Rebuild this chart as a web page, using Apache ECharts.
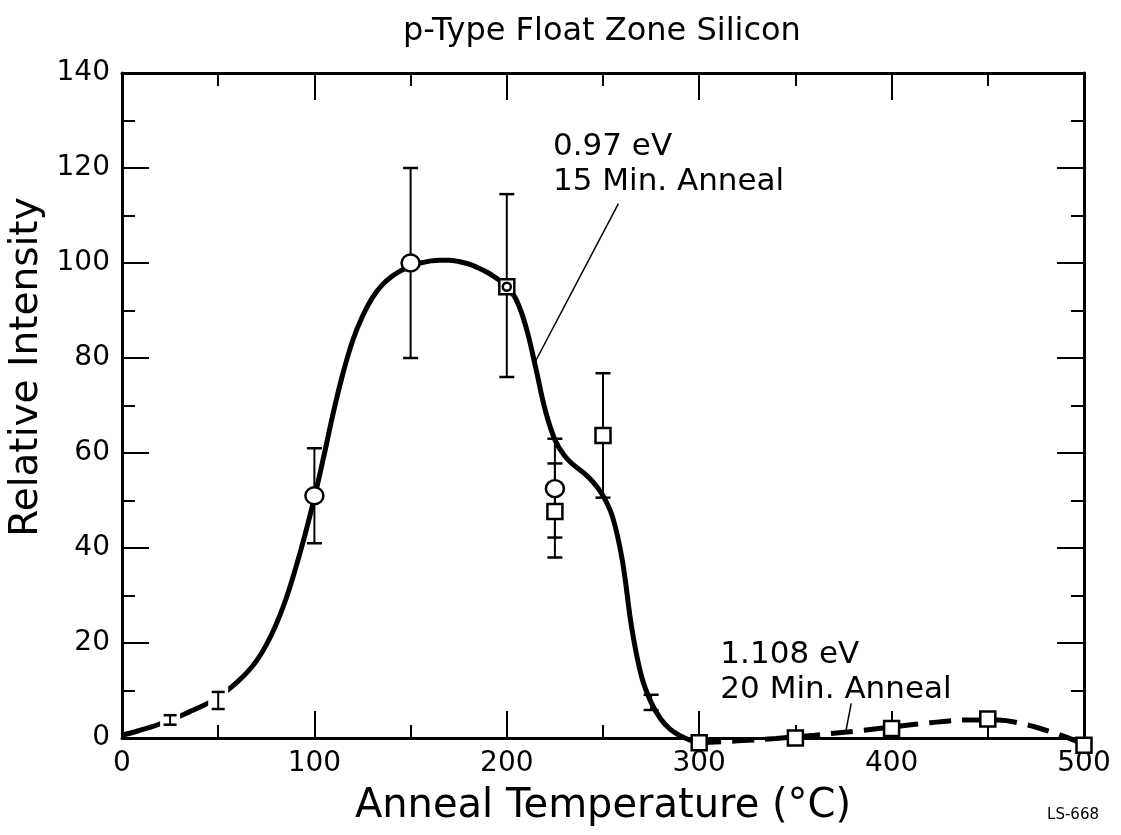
<!DOCTYPE html>
<html>
<head>
<meta charset="utf-8">
<script src="https://cdn.jsdelivr.net/npm/echarts@6/dist/echarts.min.js"></script>
<style>
  html, body { margin: 0; padding: 0; background: #fff; }
  #chart { width: 1121px; height: 835px; }
</style>
</head>
<body>
<div id="chart"></div>
<script>
// 0.97 eV line, 15 min anneals: open circles and open squares
const circleT = [100, 150, 200, 225];
const circleI = [51, 100, 95, 52.5];
const squareT = [200, 225, 250];
const squareI = [95, 47.7, 63.7];

// 1.108 eV line, 20 min anneals
const sq2T = [300, 350, 400, 450, 500];
const sq2I = [-1, 0, 2, 4, -1.5];

// error bars: temperature, lower and upper limit
const errT  = [25,  50,  100, 150, 200,   225, 225,  250,  275];
const errLo = [2.8, 6.1, 41,  80,  76,    38,  42.2, 50.6, 5.9];
const errHi = [4.8, 9.7, 61,  120, 114.5, 63,  57.8, 76.8, 9.1];

// drawn-in trend curves (solid: every 5 degrees from 0 to 300)
const solidT = Array.from({ length: 61 }, (_, i) => i * 5);
const solidI = [
  0.6, 1.1, 1.7, 2.3, 3.0, 3.8, 4.6, 5.5, 6.4, 7.4,
  8.5, 10.1, 11.8, 13.8, 16.3, 19.6, 23.8, 29, 35.4, 42.6,
  50.6, 59.5, 68.8, 77, 83.8, 88.8, 92.6, 95.3, 97.1, 98.4,
  99.3, 100, 100.4, 100.6, 100.6, 100.3, 99.8, 99, 98, 96.7,
  95, 92.2, 86.5, 78, 69, 62.8, 59.4, 57.4, 55.8, 53.8,
  51, 46.5, 37.5, 23, 13, 7.5, 4, 1.8, 0.5, -0.4,
  -1
];
const dashT = [300, 320, 340, 360, 380, 400, 420, 440, 455, 470, 485, 495, 500];
const dashI = [-1, -0.6, -0.1, 0.6, 1.4, 2.3, 3.2, 3.8, 3.8, 2.8, 1, -0.5, -1.5];

const FONT = 'DejaVu Sans';
const pairs = (xs, ys) => xs.map((x, i) => [x, ys[i]]);

const chart = echarts.init(document.getElementById('chart'), null, { renderer: 'canvas' });

const tickStyle = { color: '#000', width: 2 };
function xAxisCfg(pos, labels) {
  return {
    type: 'value', position: pos, min: 0, max: 500, interval: 100,
    axisLine: { show: true, onZero: false, lineStyle: { color: '#000', width: 3 } },
    axisTick: { show: true, inside: true, length: 27, lineStyle: tickStyle },
    minorTick: { show: true, splitNumber: 2, length: 13, lineStyle: tickStyle },
    splitLine: { show: false },
    axisLabel: { show: labels, color: '#000', fontFamily: FONT, fontSize: 28, margin: 12 },
    name: labels ? 'Anneal Temperature (°C)' : '',
    nameLocation: 'middle', nameGap: 49,
    nameTextStyle: { color: '#000', fontFamily: FONT, fontSize: 40 }
  };
}
function yAxisCfg(pos, labels) {
  return {
    type: 'value', position: pos, min: 0, max: 140, interval: 20,
    axisLine: { show: true, onZero: false, lineStyle: { color: '#000', width: 3 } },
    axisTick: { show: true, inside: true, length: 27, lineStyle: tickStyle },
    minorTick: { show: true, splitNumber: 2, length: 13, lineStyle: tickStyle },
    splitLine: { show: false },
    axisLabel: { show: labels, color: '#000', fontFamily: FONT, fontSize: 28, margin: 12 }
  };
}

function renderErr(params, api) {
  const t = api.value(0), lo = api.value(1), hi = api.value(2);
  const a = api.coord([t, lo]), b = api.coord([t, hi]);
  const cap = t < 75 ? 6.5 : 7.5;
  const kids = [];
  if (t < 75) {
    kids.push({ type: 'rect', shape: { x: a[0] - 10, y: b[1] - 5, width: 20, height: a[1] - b[1] + 10 },
                style: { fill: '#fff' } });
  }
  kids.push({ type: 'line', shape: { x1: a[0], y1: a[1], x2: b[0], y2: b[1] }, style: { stroke: '#000', lineWidth: 2 } });
  kids.push({ type: 'line', shape: { x1: a[0] - cap, y1: a[1], x2: a[0] + cap, y2: a[1] }, style: { stroke: '#000', lineWidth: 2.5 } });
  kids.push({ type: 'line', shape: { x1: b[0] - cap, y1: b[1], x2: b[0] + cap, y2: b[1] }, style: { stroke: '#000', lineWidth: 2.5 } });
  return { type: 'group', children: kids };
}

const openMark = { color: '#fff', borderColor: '#000', borderWidth: 2.5, opacity: 1 };
const noteLabel = (text) => ({
  show: true, position: 'right', distance: 0, formatter: text,
  color: '#000', opacity: 1, fontFamily: FONT, fontSize: 31, lineHeight: 35, align: 'left'
});

chart.setOption({
  animation: false,
  backgroundColor: '#fff',
  grid: { left: 122, right: 37, top: 73, bottom: 97 },
  xAxis: [xAxisCfg('bottom', true), xAxisCfg('top', false)],
  yAxis: [yAxisCfg('left', true), yAxisCfg('right', false)],
  graphic: [
    { type: 'text', left: 403, top: 16,
      style: { text: 'p-Type Float Zone Silicon', font: '32px "DejaVu Sans"', fill: '#000' } },
    { type: 'text', x: 27, y: 367, rotation: Math.PI / 2,
      style: { text: 'Relative Intensity', font: '39px "DejaVu Sans"', fill: '#000',
               textAlign: 'center', textVerticalAlign: 'middle' } },
    { type: 'text', right: 22, bottom: 12,
      style: { text: 'LS-668', font: '15px "DejaVu Sans"', fill: '#000' } }
  ],
  series: [
    { type: 'line', name: '0.97 eV curve', data: pairs(solidT, solidI), smooth: 0.4,
      showSymbol: false, clip: false, z: 2,
      lineStyle: { color: '#000', width: 5 } },
    { type: 'line', name: '1.108 eV curve', data: pairs(dashT, dashI), smooth: 0.35,
      showSymbol: false, clip: false, z: 2,
      lineStyle: { color: '#000', width: 5, type: [22, 11], cap: 'butt' } },
    { type: 'custom', name: 'error', renderItem: renderErr, clip: false, z: 3,
      data: errT.map((t, i) => [t, errLo[i], errHi[i]]), encode: { x: 0, y: [1, 2] } },
    { type: 'scatter', name: 'squares', data: pairs(squareT, squareI).concat(pairs(sq2T, sq2I)),
      symbol: 'rect', symbolSize: 15, clip: false, z: 4, itemStyle: openMark },
    { type: 'scatter', name: 'circles', data: pairs(circleT, circleI),
      symbol: 'circle', clip: false, z: 5, itemStyle: openMark,
      symbolSize: (v) => v[0] === 200 ? 8 : [18, 17] },
    // leader lines for the two annotations
    { type: 'line', data: [[258, 112.5], [214.5, 79]], showSymbol: false, clip: false, z: 1,
      lineStyle: { color: '#000', width: 1.5 } },
    { type: 'line', data: [[379, 7.3], [376, 0.9]], showSymbol: false, clip: false, z: 1,
      lineStyle: { color: '#000', width: 1.5 } },
    { type: 'scatter', symbolSize: 0, clip: false, z: 6, itemStyle: { opacity: 1 },
      data: [[224, 120.7]], label: noteLabel('0.97 eV\n15 Min. Anneal') },
    { type: 'scatter', symbolSize: 0, clip: false, z: 6, itemStyle: { opacity: 1 },
      data: [[311, 13.7]], label: noteLabel('1.108 eV\n20 Min. Anneal') }
  ]
});
</script>
</body>
</html>
